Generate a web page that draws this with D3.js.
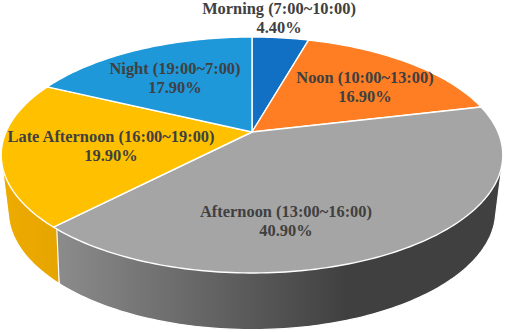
<!DOCTYPE html>
<html>
  <head>
    <title>Time of day pie</title>
    <script src="https://d3js.org/d3.v7.min.js"></script>
    <style>
      html, body { margin: 0; padding: 0; background: #fff; }
      svg { display: block; }
      text { font-family: "Liberation Serif", serif; font-weight: bold; font-size: 16.4px; fill: #404040; text-anchor: middle; }
    </style>
  </head>
  <body>
  <svg width="505" height="332"></svg>
  <script>
    // data
    var categories = ["Morning (7:00~10:00)", "Noon (10:00~13:00)", "Afternoon (13:00~16:00)", "Late Afternoon (16:00~19:00)", "Night (19:00~7:00)"];
    var shares = [4.4, 16.9, 40.9, 19.9, 17.9];
    var shareLabels = ["4.40%", "16.90%", "40.90%", "19.90%", "17.90%"];

    var colors = ["#1170c4", "#ff7d23", "#a5a5a5", "#ffc000", "#1e98d8"];
    // label anchors, first line baseline
    var labelAt = [[279, 14], [365, 83], [286, 217], [111, 142], [175, 74]];

    var svg = d3.select("svg");

    // perspective tilt of the pie disc
    var k = 0.195;
    var upper = { cx: 252, cy: 132, a: 246, b: 113.5 };
    var lower = { cx: 252, cy: 188, a: 239, b: 114 };

    function project(plane, angle) {
      var u = Math.sin(angle), v = -Math.cos(angle);
      var d = 1 - k * v;
      return [plane.cx + plane.a * u / d, plane.cy + plane.b * v / d];
    }

    function arcPoints(plane, a0, a1) {
      var n = Math.max(2, Math.ceil((a1 - a0) / 0.02));
      return d3.range(n + 1).map(function(i) { return project(plane, a0 + (a1 - a0) * i / n); });
    }

    var line = d3.line();
    var slices = d3.pie().sort(null)(shares);

    var defs = svg.append("defs");

    var greyGrad = defs.append("linearGradient").attr("id", "sideGrey")
      .attr("gradientUnits", "userSpaceOnUse").attr("x1", 55).attr("x2", 505).attr("y1", 0).attr("y2", 0);
    greyGrad.append("stop").attr("offset", 0).attr("stop-color", "#8c8c8c");
    greyGrad.append("stop").attr("offset", 0.65).attr("stop-color", "#404040");
    greyGrad.append("stop").attr("offset", 1).attr("stop-color", "#404040");

    var yellowGrad = defs.append("linearGradient").attr("id", "sideYellow")
      .attr("gradientUnits", "userSpaceOnUse").attr("x1", 0).attr("x2", 60).attr("y1", 0).attr("y2", 0);
    yellowGrad.append("stop").attr("offset", 0).attr("stop-color", "#eeac00");
    yellowGrad.append("stop").attr("offset", 1).attr("stop-color", "#e6a400");

    // rim first, the top surface covers whatever is behind it
    // hull of both arcs so the silhouette runs along the tangent between them
    var sideFill = { 2: "url(#sideGrey)", 3: "url(#sideYellow)" };
    slices.forEach(function(s) {
      if (!sideFill[s.index]) return;
      var pts = d3.polygonHull(arcPoints(upper, s.startAngle, s.endAngle)
        .concat(arcPoints(lower, s.startAngle, s.endAngle)));
      svg.append("path")
        .attr("d", line(pts) + "Z")
        .attr("fill", sideFill[s.index])
        .attr("stroke", "#fff")
        .attr("stroke-width", 1.2)
        .attr("stroke-linejoin", "round");
    });

    // top surface
    svg.selectAll(".slice")
      .data(slices)
      .enter()
      .append("path")
      .attr("class", "slice")
      .attr("d", function(s) {
        return line([[upper.cx, upper.cy]].concat(arcPoints(upper, s.startAngle, s.endAngle))) + "Z";
      })
      .attr("fill", function(s) { return colors[s.index]; })
      .attr("stroke", "#fff")
      .attr("stroke-width", 1.4)
      .attr("stroke-linejoin", "round");

    // labels
    categories.forEach(function(c, i) {
      var t = svg.append("text").attr("x", labelAt[i][0]).attr("y", labelAt[i][1]);
      t.append("tspan").attr("x", labelAt[i][0]).text(c);
      t.append("tspan").attr("x", labelAt[i][0]).attr("dy", 19).text(shareLabels[i]);
    });
  </script>
  </body>
</html>
